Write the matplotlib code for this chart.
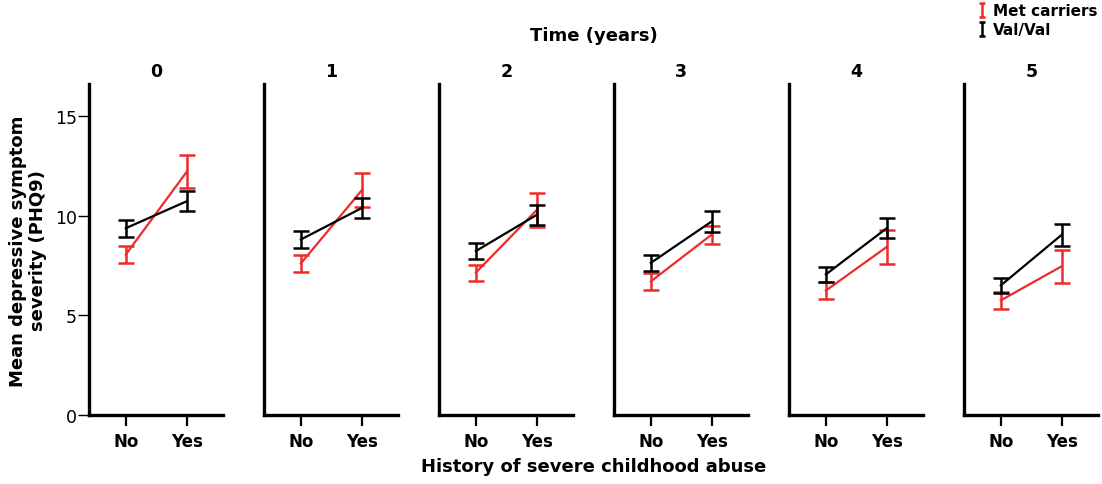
import matplotlib
matplotlib.use("Agg")
import matplotlib.pyplot as plt
from matplotlib.lines import Line2D
from matplotlib.path import Path

## values (mean and half-width of error bar)
years = ["0", "1", "2", "3", "4", "5"]
abuse = ["No", "Yes"]

met_mean = [[8.05, 12.2], [7.6, 11.27], [7.14, 10.28], [6.7, 9.05], [6.24, 8.43], [5.75, 7.46]]
met_err = [[0.42, 0.84], [0.42, 0.85], [0.40, 0.85], [0.41, 0.45], [0.42, 0.85], [0.43, 0.84]]
val_mean = [[9.37, 10.72], [8.8, 10.38], [8.22, 10.04], [7.63, 9.71], [7.05, 9.37], [6.5, 9.04]]
val_err = [[0.42, 0.50], [0.41, 0.51], [0.39, 0.51], [0.40, 0.51], [0.39, 0.50], [0.38, 0.54]]

red = "#ee2a2a"
plt.rcParams["font.family"] = ["DejaVu Sans"]

W, H = 1102, 485
fig = plt.figure(figsize=(W / 100, H / 100), dpi=100)

left0, pitch, width = 89.3, 175, 134
top, bottom = 85, 416

for i, yr in enumerate(years):
    ax = fig.add_axes([(left0 + pitch * i) / W, 1 - bottom / H,
                       width / W, (bottom - top) / H])
    xs = [0, 1]
    # Met carriers (red), then Val/Val (black) on top
    ax.plot(xs, met_mean[i], color=red, lw=1.6, zorder=2)
    ax.errorbar(xs, met_mean[i], yerr=met_err[i], fmt="none", ecolor=red,
                elinewidth=1.8, capsize=6, capthick=1.8, zorder=2)
    ax.plot(xs, val_mean[i], color="black", lw=1.6, zorder=3)
    ax.errorbar(xs, val_mean[i], yerr=val_err[i], fmt="none", ecolor="black",
                elinewidth=1.8, capsize=6, capthick=1.8, zorder=3)
    ax.set_xlim(-0.6, 1.6)
    ax.set_ylim(0, 16.6)
    for s in ["top", "right"]:
        ax.spines[s].set_visible(False)
    for s in ["left", "bottom"]:
        ax.spines[s].set_linewidth(2.4)
    ax.set_xticks(xs)
    ax.set_xticklabels(abuse, fontsize=12, fontweight="bold")
    ax.tick_params(axis="x", length=8, width=1.6, pad=4)
    if i == 0:
        ax.set_yticks([0, 5, 10, 15])
        ax.tick_params(axis="y", length=8, width=1.0, labelsize=12.5, pad=1)
    else:
        ax.set_yticks([])
    ax.set_title(yr, fontsize=12.5, fontweight="bold", pad=6)

fig.text(594 / W, 1 - 36 / H, "Time (years)", ha="center", va="center",
         fontsize=13, fontweight="bold")
fig.text(594 / W, 1 - 467 / H, "History of severe childhood abuse", ha="center",
         va="center", fontsize=13, fontweight="bold")
fig.text(28 / W, 1 - 251 / H, "Mean depressive symptom\nseverity (PHQ9)",
         ha="center", va="center", rotation=90, fontsize=13, fontweight="bold",
         linespacing=1.1)

# legend: small I-beam symbols like the error bars
ibeam = Path([(-0.4, -1), (0.4, -1), (0, -1), (0, 1), (-0.4, 1), (0.4, 1)],
             [Path.MOVETO, Path.LINETO, Path.MOVETO, Path.LINETO, Path.MOVETO, Path.LINETO])
handles = [Line2D([], [], color=c, marker=ibeam, markersize=10, linestyle="none",
                  markerfacecolor="none", markeredgewidth=1.8, label=lab)
           for c, lab in [(red, "Met carriers"), ("black", "Val/Val")]]
fig.legend(handles=handles, loc="upper right", bbox_to_anchor=(1.004, 1.01),
           frameon=False, handlelength=0.6, handletextpad=0.4,
           borderpad=0.1, labelspacing=0.25, prop={"weight": "bold", "size": 11})

fig.savefig("out.png", dpi=100)
